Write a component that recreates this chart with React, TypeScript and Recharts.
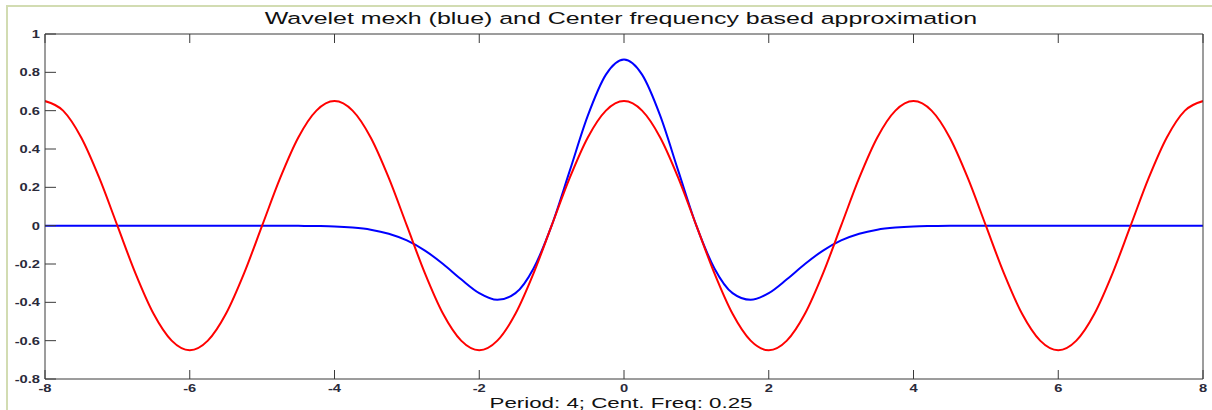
import React from "react";
import { LineChart, Line, XAxis, YAxis } from "recharts";

// sample positions (step 0.25)
const xs = [
  -8, -7.75, -7.5, -7.25, -7, -6.75, -6.5, -6.25, -6, -5.75, -5.5, -5.25, -5,
  -4.75, -4.5, -4.25, -4, -3.75, -3.5, -3.25, -3, -2.75, -2.5, -2.25, -2,
  -1.75, -1.5, -1.25, -1, -0.75, -0.5, -0.25, 0, 0.25, 0.5, 0.75, 1, 1.25,
  1.5, 1.75, 2, 2.25, 2.5, 2.75, 3, 3.25, 3.5, 3.75, 4, 4.25, 4.5, 4.75, 5,
  5.25, 5.5, 5.75, 6, 6.25, 6.5, 6.75, 7, 7.25, 7.5, 7.75, 8,
];

// mexican hat wavelet
const mexh = [
  0, 0, 0, 0, 0, 0, 0, 0, 0, 0, 0, 0, 0, 0,
  -0.001, -0.002, -0.004, -0.01, -0.021, -0.042, -0.077, -0.13, -0.2, -0.28,
  -0.352, -0.387, -0.352, -0.223, 0, 0.286, 0.574, 0.788,
  0.867,
  0.788, 0.574, 0.286, 0, -0.223, -0.352, -0.387, -0.352, -0.28, -0.2, -0.13,
  -0.077, -0.042, -0.021, -0.01, -0.004, -0.002, -0.001,
  0, 0, 0, 0, 0, 0, 0, 0, 0, 0, 0, 0, 0, 0,
];

// centre frequency approximation (period 4)
const approx = [
  0.65, 0.6, 0.46, 0.249, 0, -0.249, -0.46, -0.6, -0.65, -0.6, -0.46, -0.249, 0, 0.249, 0.46, 0.6,
  0.65, 0.6, 0.46, 0.249, 0, -0.249, -0.46, -0.6, -0.65, -0.6, -0.46, -0.249, 0, 0.249, 0.46, 0.6,
  0.65, 0.6, 0.46, 0.249, 0, -0.249, -0.46, -0.6, -0.65, -0.6, -0.46, -0.249, 0, 0.249, 0.46, 0.6,
  0.65, 0.6, 0.46, 0.249, 0, -0.249, -0.46, -0.6, -0.65, -0.6, -0.46, -0.249, 0, 0.249, 0.46, 0.6,
  0.65,
];

const xTicks = [-8, -6, -4, -2, 0, 2, 4, 6, 8];
const yTicks = [-0.8, -0.6, -0.4, -0.2, 0, 0.2, 0.4, 0.6, 0.8, 1];

const data = xs.map((x, i) => ({ x, mexh: mexh[i], approx: approx[i] }));

const FONT = "Arial, 'Liberation Sans', Helvetica, sans-serif";
const STRETCH = 1.45;
const AXIS = "#3a3a3a";
const TICK_FONT = 10.5;

const BottomTick = (p: any) => (
  <g>
    <line x1={p.x} y1={p.y} x2={p.x} y2={p.y - 9} stroke={AXIS} />
    <text
      transform={`translate(${p.x},${p.y + 12.5}) scale(1.4,1)`}
      textAnchor="middle"
      fontSize={TICK_FONT}
      fontWeight="bold"
      fontFamily={FONT}
      fill="#2a2a3a"
    >
      {p.payload.value}
    </text>
  </g>
);

const LeftTick = (p: any) => (
  <g>
    <line x1={p.x} y1={p.y} x2={p.x + 11} y2={p.y} stroke={AXIS} />
    <text
      transform={`translate(${p.x - 5},${p.y + 4}) scale(1.4,1)`}
      textAnchor="end"
      fontSize={TICK_FONT}
      fontWeight="bold"
      fontFamily={FONT}
      fill="#2a2a3a"
    >
      {p.payload.value}
    </text>
  </g>
);

const TopTick = (p: any) => (
  <line x1={p.x} y1={p.y} x2={p.x} y2={p.y + 9} stroke={AXIS} />
);

const RightTick = (p: any) => (
  <line x1={p.x} y1={p.y} x2={p.x - 11} y2={p.y} stroke={AXIS} />
);

const stretched = (size: number): React.CSSProperties => ({
  position: "absolute",
  left: 0,
  width: 1242,
  textAlign: "center",
  fontFamily: FONT,
  fontSize: size,
  color: "#111",
  transform: `scaleX(${STRETCH})`,
  transformOrigin: "621px 0",
  whiteSpace: "nowrap",
  lineHeight: 1,
});

export default function App() {
  return (
    <div
      style={{
        position: "fixed",
        left: 0,
        top: 0,
        width: 1212,
        height: 410,
        background: "#fff",
        overflow: "hidden",
      }}
    >
      <div
        style={{
          position: "absolute",
          left: 6,
          top: 5,
          right: 0,
          bottom: 0,
          borderLeft: "2px solid #d2dcb2",
          borderTop: "2px solid #d2dcb2",
        }}
      />
      <LineChart
        width={1212}
        height={410}
        data={data}
        margin={{ top: 33, right: 8, bottom: 30, left: 44 }}
        style={{ position: "absolute", left: 0, top: 0 }}
      >
        <XAxis
          dataKey="x"
          type="number"
          domain={[-8, 8]}
          ticks={xTicks}
          interval={0}
          height={1}
          tickSize={0}
          tickMargin={0}
          tickLine={false}
          tick={BottomTick}
          stroke={AXIS}
          allowDataOverflow
        />
        <XAxis
          xAxisId="top"
          orientation="top"
          dataKey="x"
          type="number"
          domain={[-8, 8]}
          ticks={xTicks}
          interval={0}
          height={1}
          tickSize={0}
          tickMargin={0}
          tickLine={false}
          tick={TopTick}
          stroke={AXIS}
        />
        <YAxis
          type="number"
          domain={[-0.8, 1]}
          ticks={yTicks}
          interval={0}
          width={1}
          tickSize={0}
          tickMargin={0}
          tickLine={false}
          tick={LeftTick}
          stroke={AXIS}
          allowDataOverflow
        />
        <YAxis
          yAxisId="right"
          orientation="right"
          type="number"
          domain={[-0.8, 1]}
          ticks={yTicks}
          interval={0}
          width={1}
          tickSize={0}
          tickMargin={0}
          tickLine={false}
          tick={RightTick}
          stroke={AXIS}
        />
        <Line
          dataKey="mexh"
          type="monotone"
          stroke="#0000ff"
          strokeWidth={2}
          dot={false}
          isAnimationActive={false}
        />
        <Line
          dataKey="approx"
          type="monotone"
          stroke="#ff0000"
          strokeWidth={2}
          dot={false}
          isAnimationActive={false}
        />
      </LineChart>
      <div style={{ ...stretched(17.2), top: 10 }}>
        Wavelet mexh (blue) and Center frequency based approximation
      </div>
      <div style={{ ...stretched(15.4), top: 395 }}>
        Period: 4; Cent. Freq: 0.25
      </div>
    </div>
  );
}
